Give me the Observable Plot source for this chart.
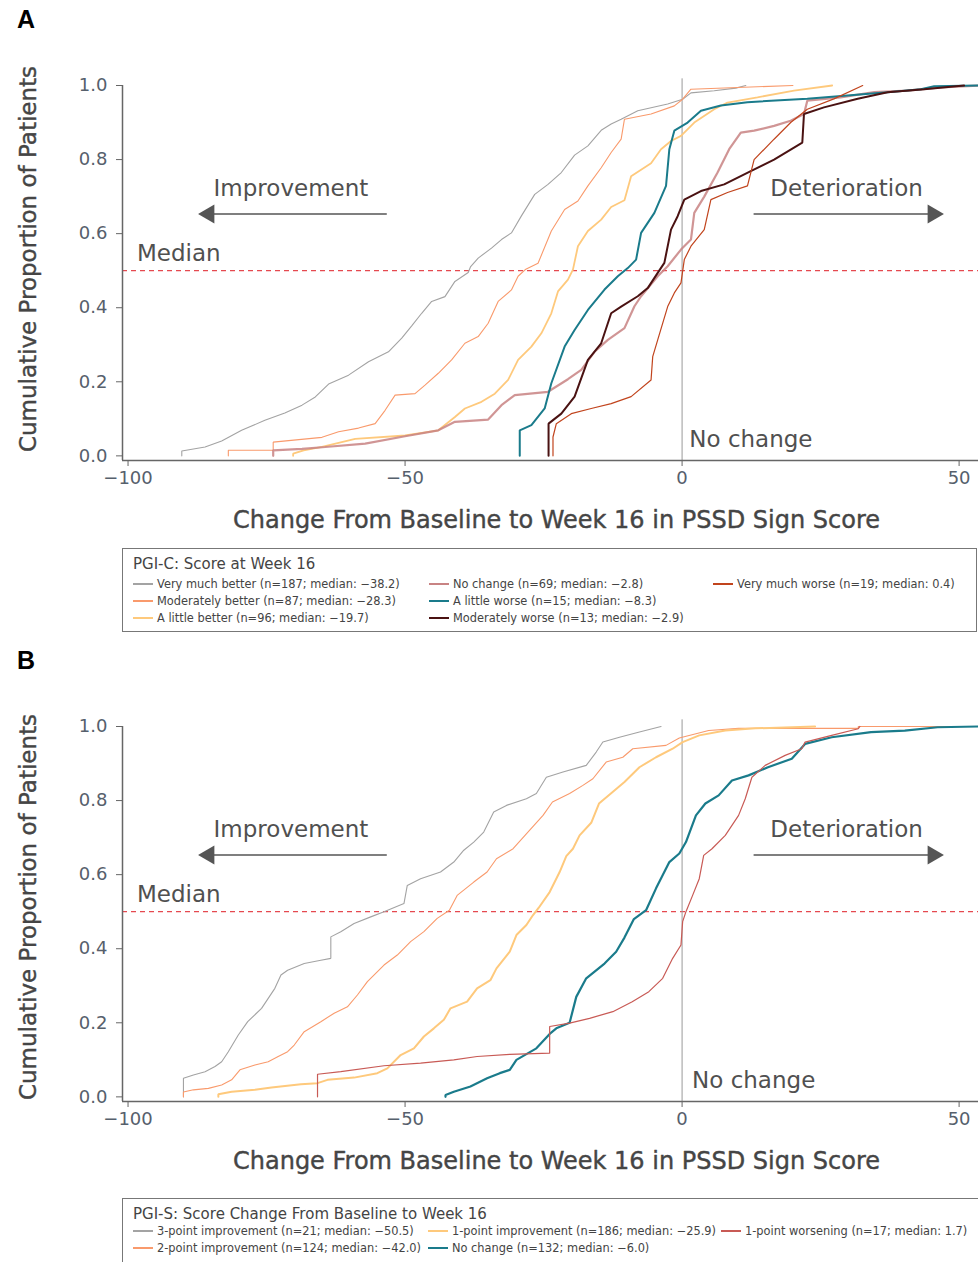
<!DOCTYPE html>
<html>
<head>
<meta charset="utf-8">
<script src="https://cdn.jsdelivr.net/npm/d3@7"></script>
<script src="https://cdn.jsdelivr.net/npm/@observablehq/plot@0.6"></script>
<style>
  body { margin: 0; background: #fff; }
  #page { position: relative; width: 978px; height: 1262px; overflow: hidden; background: #fff; font-family: "DejaVu Sans", sans-serif; }
  .panel-letter { position: absolute; left: 17px; font: bold 25px "Liberation Sans", Arial, sans-serif; color: #000; }
  .plot-holder { position: absolute; left: 0; }
  .ytitle { position: absolute; left: 28px; transform: translate(-50%, -50%) rotate(-90deg); white-space: nowrap;
            font: 23px "DejaVu Sans", sans-serif; color: #454545; -webkit-text-stroke: 0.4px #454545; }
  .legend { position: absolute; left: 122px; border: 1px solid #777; box-sizing: border-box; background: #fff;
            font-family: "DejaVu Sans", sans-serif; color: #444; }
  .legend .ttl { position: absolute; left: 10px; font-size: 15px; white-space: nowrap; }
  .legend .item { position: absolute; font-size: 11.4px; white-space: nowrap; line-height: 14px; }
  .legend .sw { display: inline-block; width: 20px; height: 0; border-top: 2px solid; vertical-align: middle; margin-right: 4px; position: relative; top: -1px; }
</style>
</head>
<body>
<div id="page"></div>
<script>
// ---------------- DATA ----------------
// Panel A: PGI-C groups, cumulative distribution knots [change, proportion]
const aVeryMuchBetter = [[-90.3,0],[-90.3,0.013],[-86.1,0.024],[-83.1,0.04],[-79.5,0.069],[-75.3,0.096],[-71.7,0.116],[-68.6,0.137],[-66.2,0.159],[-63.8,0.194],[-60.2,0.218],[-56.6,0.254],[-53.0,0.281],[-50.6,0.318],[-48.8,0.351],[-47.0,0.385],[-45.2,0.417],[-42.8,0.430],[-41.0,0.471],[-38.6,0.495],[-38.2,0.51],[-36.8,0.534],[-34.4,0.561],[-32.6,0.584],[-30.8,0.602],[-29.0,0.648],[-26.6,0.706],[-24.2,0.733],[-21.8,0.765],[-19.4,0.812],[-17.0,0.837],[-14.6,0.879],[-12.8,0.896],[-11.0,0.909],[-8.0,0.932],[-2.6,0.95],[0.1,0.963],[1.6,0.98],[5.8,0.986],[9.7,0.993],[11.5,1.0]];
const aModeratelyBetter = [[-81.9,0],[-81.9,0.015],[-73.8,0.015],[-73.8,0.037],[-65.0,0.05],[-62.0,0.065],[-58.4,0.075],[-55.4,0.087],[-53.6,0.123],[-51.8,0.164],[-48.2,0.168],[-46.4,0.191],[-44.0,0.223],[-41.6,0.259],[-39.2,0.304],[-36.8,0.322],[-35.0,0.358],[-33.2,0.417],[-30.8,0.448],[-29.6,0.485],[-28.3,0.503],[-26.0,0.52],[-23.6,0.607],[-21.2,0.665],[-18.8,0.688],[-17.0,0.729],[-14.6,0.778],[-12.8,0.819],[-11.0,0.855],[-10.4,0.909],[-5.6,0.923],[-1.4,0.945],[0.1,0.963],[1.6,0.99],[20.0,1.0]];
const aLittleBetter = [[-70.2,0],[-70.2,0.006],[-68.3,0.015],[-65.0,0.024],[-59.0,0.046],[-50.0,0.055],[-44.0,0.069],[-41.0,0.105],[-39.2,0.128],[-36.2,0.146],[-33.8,0.168],[-31.4,0.205],[-29.6,0.259],[-27.2,0.295],[-25.4,0.331],[-23.6,0.385],[-22.4,0.444],[-20.6,0.476],[-19.7,0.503],[-18.8,0.566],[-17.0,0.607],[-14.6,0.638],[-12.8,0.672],[-10.4,0.69],[-9.2,0.755],[-5.6,0.79],[-3.8,0.828],[-2.0,0.85],[-0.2,0.864],[2.2,0.90],[5.8,0.936],[8.2,0.954],[13.6,0.968],[20.2,0.986],[27.1,1.0]];
const aNoChange = [[-73.8,0],[-73.8,0.015],[-68.6,0.019],[-64.4,0.024],[-57.2,0.033],[-50.0,0.053],[-44.0,0.069],[-41.0,0.092],[-35.0,0.098],[-32.6,0.137],[-30.2,0.164],[-24.2,0.173],[-20.6,0.207],[-18.2,0.232],[-15.8,0.281],[-13.4,0.313],[-10.4,0.345],[-8.6,0.404],[-7.4,0.431],[-4.4,0.485],[-2.6,0.512],[-0.2,0.557],[1.6,0.584],[2.2,0.656],[4.0,0.70],[6.4,0.765],[8.5,0.828],[10.6,0.873],[13.0,0.878],[16.6,0.891],[19.6,0.905],[22.0,0.923],[22.6,0.959],[28.6,0.968],[34.7,0.982],[40.7,0.986],[46.7,0.995],[53.5,1.0]];
const aLittleWorse = [[-29.3,0],[-29.3,0.069],[-27.2,0.083],[-24.8,0.128],[-23.6,0.196],[-21.2,0.295],[-19.4,0.34],[-17.0,0.394],[-14.0,0.449],[-11.6,0.485],[-9.8,0.507],[-8.3,0.53],[-7.4,0.602],[-5.0,0.656],[-2.9,0.729],[-2.3,0.828],[-1.4,0.878],[1.0,0.90],[3.4,0.932],[7.0,0.946],[11.8,0.955],[22.6,0.964],[37.1,0.982],[43.1,0.99],[45.5,0.998],[53.5,1.0]];
const aModeratelyWorse = [[-24.1,0],[-24.1,0.087],[-21.8,0.114],[-19.4,0.16],[-17.0,0.259],[-14.6,0.304],[-12.8,0.385],[-11.0,0.403],[-8.0,0.431],[-6.2,0.453],[-4.4,0.494],[-3.2,0.521],[-2.0,0.611],[-0.8,0.647],[0.4,0.692],[3.4,0.715],[7.6,0.733],[12.4,0.769],[16.6,0.80],[21.7,0.846],[22.0,0.923],[25.6,0.941],[31.7,0.964],[37.1,0.982],[43.7,0.99],[50.9,1.0]];
const aVeryMuchWorse = [[-23.3,0],[-23.3,0.051],[-22.7,0.087],[-20.0,0.114],[-16.4,0.128],[-12.8,0.141],[-9.2,0.16],[-5.6,0.205],[-5.3,0.268],[-4.4,0.313],[-2.6,0.403],[-1.4,0.44],[-0.2,0.467],[0.4,0.53],[1.6,0.566],[4.0,0.611],[5.2,0.692],[8.2,0.711],[11.8,0.729],[13.0,0.80],[16.6,0.855],[19.6,0.90],[22.6,0.936],[27.4,0.964],[32.6,1.0]];

// Panel B: PGI-S change groups
const bThreePoint = [[-90.0,0],[-90.0,0.05],[-88.2,0.059],[-86.1,0.068],[-84.3,0.082],[-83.1,0.095],[-81.9,0.122],[-80.1,0.167],[-78.4,0.203],[-75.9,0.239],[-74.7,0.266],[-73.5,0.293],[-72.4,0.329],[-71.2,0.342],[-68.2,0.36],[-65.2,0.369],[-63.4,0.374],[-63.4,0.432],[-61.6,0.446],[-59.2,0.468],[-56.2,0.486],[-53.8,0.50],[-50.2,0.522],[-49.6,0.571],[-47.2,0.589],[-43.6,0.607],[-41.2,0.634],[-39.4,0.666],[-37.6,0.688],[-35.8,0.715],[-34.0,0.769],[-31.7,0.787],[-28.1,0.805],[-26.3,0.819],[-24.5,0.863],[-21.5,0.877],[-17.3,0.895],[-15.5,0.931],[-14.3,0.958],[-11.3,0.971],[-7.7,0.985],[-3.8,1.0]];
const bTwoPoint = [[-90.0,0],[-90.0,0.013],[-88.2,0.019],[-85.5,0.023],[-83.1,0.032],[-81.3,0.046],[-79.8,0.073],[-77.1,0.086],[-74.7,0.095],[-72.9,0.109],[-71.2,0.122],[-70.0,0.14],[-68.2,0.176],[-65.2,0.203],[-62.8,0.226],[-60.4,0.243],[-58.6,0.275],[-56.8,0.311],[-53.8,0.356],[-51.4,0.383],[-49.0,0.419],[-46.6,0.446],[-44.2,0.482],[-42.0,0.504],[-40.6,0.544],[-37.6,0.58],[-35.2,0.607],[-33.5,0.643],[-30.5,0.67],[-27.5,0.72],[-25.1,0.76],[-23.4,0.796],[-20.3,0.819],[-17.9,0.841],[-16.1,0.859],[-13.7,0.904],[-10.7,0.917],[-8.9,0.94],[-2.9,0.949],[-0.5,0.969],[4.8,0.989],[10.2,0.995],[31.8,0.995],[31.8,1.0],[52.0,1.0]];
const bOnePoint = [[-83.7,0],[-83.7,0.007],[-81.3,0.014],[-77.1,0.019],[-74.1,0.025],[-68.8,0.034],[-65.8,0.037],[-64.0,0.046],[-59.2,0.052],[-55.0,0.064],[-53.2,0.077],[-50.8,0.113],[-48.4,0.131],[-46.6,0.163],[-44.8,0.185],[-43.0,0.208],[-41.8,0.239],[-38.8,0.257],[-37.0,0.293],[-34.6,0.315],[-33.5,0.347],[-31.1,0.392],[-29.9,0.437],[-28.1,0.464],[-26.9,0.491],[-25.9,0.51],[-23.9,0.553],[-22.1,0.607],[-20.9,0.65],[-19.7,0.67],[-18.5,0.706],[-16.4,0.74],[-15.0,0.792],[-12.8,0.82],[-10.4,0.85],[-7.7,0.89],[-4.7,0.917],[-1.7,0.94],[0.1,0.958],[3.1,0.976],[7.8,0.989],[13.2,0.995],[24.0,1.0]];
const bNoChange = [[-42.7,0],[-42.7,0.005],[-41.2,0.014],[-38.2,0.028],[-35.2,0.05],[-32.9,0.064],[-31.1,0.073],[-29.9,0.10],[-26.3,0.131],[-23.9,0.17],[-22.7,0.185],[-20.3,0.2],[-19.1,0.27],[-17.3,0.32],[-14.0,0.36],[-11.9,0.392],[-10.4,0.43],[-8.7,0.48],[-6.5,0.504],[-4.7,0.563],[-2.3,0.634],[-0.5,0.657],[0.7,0.688],[2.5,0.76],[4.2,0.792],[6.6,0.814],[9.0,0.854],[12.0,0.868],[15.5,0.89],[19.8,0.913],[22.2,0.953],[27.0,0.971],[34.1,0.985],[40.2,0.989],[46.1,0.998],[53.5,1.0]];
const bOnePointWorse = [[-65.8,0],[-65.8,0.061],[-61.6,0.068],[-53.8,0.084],[-47.2,0.091],[-41.2,0.10],[-37.0,0.109],[-31.1,0.115],[-23.9,0.118],[-23.9,0.19],[-20.3,0.199],[-16.7,0.212],[-12.5,0.23],[-9.0,0.257],[-6.0,0.284],[-3.5,0.32],[-1.7,0.374],[-0.2,0.41],[0.1,0.473],[0.7,0.50],[1.9,0.544],[3.1,0.589],[3.9,0.652],[5.4,0.67],[7.8,0.706],[10.2,0.76],[11.4,0.805],[12.6,0.863],[15.0,0.895],[18.6,0.922],[21.6,0.94],[22.2,0.958],[27.0,0.976],[31.8,0.994],[32.1,1.0]];

// Legend labels
const aLegendTitle = "PGI-C: Score at Week 16";
const aLabels = ["Very much better (n=187; median: \u221238.2)", "Moderately better (n=87; median: \u221228.3)", "A little better (n=96; median: \u221219.7)",
                 "No change (n=69; median: \u22122.8)", "A little worse (n=15; median: \u22128.3)", "Moderately worse (n=13; median: \u22122.9)",
                 "Very much worse (n=19; median: 0.4)"];
const bLegendTitle = "PGI-S: Score Change From Baseline to Week 16";
const bLabels = ["3-point improvement (n=21; median: \u221250.5)", "2-point improvement (n=124; median: \u221242.0)",
                 "1-point improvement (n=186; median: \u221225.9)", "No change (n=132; median: \u22126.0)",
                 "1-point worsening (n=17; median: 1.7)"];

// Ticks
const xTicks = [-100, -50, 0, 50];
const yTicks = [0, 0.2, 0.4, 0.6, 0.8, 1.0];
const xDomain = [-101, 53.5];
const yDomain = [-0.0125, 1];

// Styles
const C = {gray: "#a3a3a3", orange: "#f99a6c", yellow: "#fec97c", pink: "#c88383", teal: "#1a7b8b", maroon: "#4a1212", red: "#c1441d", red2: "#c85a55"};

const aSeries = [
  {data: aVeryMuchBetter, color: C.gray, w: 1.1, op: 1},
  {data: aModeratelyBetter, color: C.orange, w: 1.1, op: 1},
  {data: aLittleBetter, color: C.yellow, w: 1.8, op: 1},
  {data: aNoChange, color: C.pink, w: 2.2, op: 0.85},
  {data: aLittleWorse, color: C.teal, w: 2, op: 1},
  {data: aModeratelyWorse, color: C.maroon, w: 2, op: 1},
  {data: aVeryMuchWorse, color: C.red, w: 1.2, op: 1}
];
const bSeries = [
  {data: bThreePoint, color: C.gray, w: 1.1, op: 1},
  {data: bTwoPoint, color: C.orange, w: 1.1, op: 1},
  {data: bOnePoint, color: C.yellow, w: 2, op: 1},
  {data: bNoChange, color: C.teal, w: 2.2, op: 1},
  {data: bOnePointWorse, color: C.red2, w: 1.2, op: 1}
];

const textColor = "#505050";
const tickColor = "#56606c";

function panel(series, noChangeX) {
  const annMid = [
    {x: -70.6, y: 0.722, t: "Improvement"},
    {x: 29.7, y: 0.722, t: "Deterioration"}
  ];
  const annStart = [
    {x: -98.4, y: 0.545, t: "Median"},
    {x: noChangeX, y: 0.044, t: "No change"}
  ];
  return Plot.plot({
    width: 978, height: 540,
    marginLeft: 122, marginRight: 0, marginTop: 85, marginBottom: 80,
    style: {fontFamily: "DejaVu Sans", fontSize: "18px", background: "transparent", overflow: "visible", color: textColor},
    x: {domain: xDomain},
    y: {domain: yDomain},
    marks: [
      Plot.ruleY([0.5], {stroke: "#e5494f", strokeDasharray: "5,4", strokeWidth: 1.3}),
      Plot.ruleX([0], {y1: yDomain[0], y2: 1.018, stroke: "#999", strokeWidth: 1}),
      Plot.axisX({ticks: xTicks, tickFormat: d => d < 0 ? "\u2212" + Math.abs(d) : String(d), tickSize: 6, tickPadding: 5, fontSize: 18, stroke: "#666", fill: tickColor, label: null}),
      Plot.axisY({ticks: yTicks, tickFormat: d3.format(".1f"), tickSize: 6, tickPadding: 9, fontSize: 18, stroke: "#666", fill: tickColor, label: null}),
      Plot.ruleX([xDomain[0]], {y1: yDomain[0], y2: 1, stroke: "#666", strokeWidth: 1.5}),
      Plot.ruleY([yDomain[0]], {stroke: "#666", strokeWidth: 1.5}),
      ...series.map(s => Plot.line(s.data, {x: d => d[0], y: d => d[1], curve: "linear", stroke: s.color, strokeWidth: s.w, strokeOpacity: s.op, strokeLinejoin: "miter"})),
      Plot.text(annMid, {x: "x", y: "y", text: "t", textAnchor: "middle", fontSize: 23, fill: textColor}),
      Plot.text(annStart, {x: "x", y: "y", text: "t", textAnchor: "start", fontSize: 23, fill: textColor}),
      // arrows
      Plot.line([{x: -53.4, y: 0.653}, {x: -85.4, y: 0.653}], {x: "x", y: "y", stroke: "#555", strokeWidth: 1.5}),
      Plot.dot([{x: -85.4, y: 0.653}], {x: "x", y: "y", symbol: "triangle", rotate: -90, r: 7, fill: "#555", stroke: null}),
      Plot.line([{x: 13.0, y: 0.653}, {x: 45.3, y: 0.653}], {x: "x", y: "y", stroke: "#555", strokeWidth: 1.5}),
      Plot.dot([{x: 45.3, y: 0.653}], {x: "x", y: "y", symbol: "triangle", rotate: 90, r: 7, fill: "#555", stroke: null}),
      // x axis title
      Plot.text(["Change From Baseline to Week 16 in PSSD Sign Score"], {frameAnchor: "bottom", dy: 67, dx: 6, fontSize: 24, fill: "#454545", stroke: "#454545", strokeWidth: 0.4})
    ]
  });
}

function legend(title, labels, colors, positions, top, height, width) {
  const box = document.createElement("div");
  box.className = "legend";
  box.style.top = top + "px";
  box.style.height = height + "px";
  box.style.width = width + "px";
  const t = document.createElement("div");
  t.className = "ttl";
  t.textContent = title;
  t.style.top = "6px";
  box.appendChild(t);
  labels.forEach((lab, i) => {
    const it = document.createElement("div");
    it.className = "item";
    it.style.left = positions[i][0] + "px";
    it.style.top = positions[i][1] + "px";
    const sw = document.createElement("span");
    sw.className = "sw";
    sw.style.borderTopColor = colors[i];
    it.appendChild(sw);
    it.appendChild(document.createTextNode(lab));
    box.appendChild(it);
  });
  return box;
}

const page = document.getElementById("page");
function add(el, top) {
  const h = document.createElement("div");
  h.className = "plot-holder";
  h.style.top = top + "px";
  h.appendChild(el);
  page.appendChild(h);
}
function letter(ch, top) {
  const d = document.createElement("div");
  d.className = "panel-letter";
  d.style.top = top + "px";
  d.textContent = ch;
  page.appendChild(d);
}
function ytitle(top) {
  const d = document.createElement("div");
  d.className = "ytitle";
  d.style.top = top + "px";
  d.textContent = "Cumulative Proportion of Patients";
  page.appendChild(d);
}

letter("A", 5);
add(panel(aSeries, 1.3), 0);
ytitle(259);
page.appendChild(legend(aLegendTitle, aLabels,
  [C.gray, C.orange, C.yellow, C.pink, C.teal, C.maroon, C.red],
  [[10, 28], [10, 45], [10, 62], [306, 28], [306, 45], [306, 62], [590, 28]],
  548, 84, 855));

letter("B", 646);
add(panel(bSeries, 1.8), 641);
ytitle(641 + 266);
page.appendChild(legend(bLegendTitle, bLabels,
  [C.gray, C.orange, C.yellow, C.teal, C.red2],
  [[10, 25], [10, 42], [305, 25], [305, 42], [598, 25]],
  1198, 80, 870));
</script>
</body>
</html>
